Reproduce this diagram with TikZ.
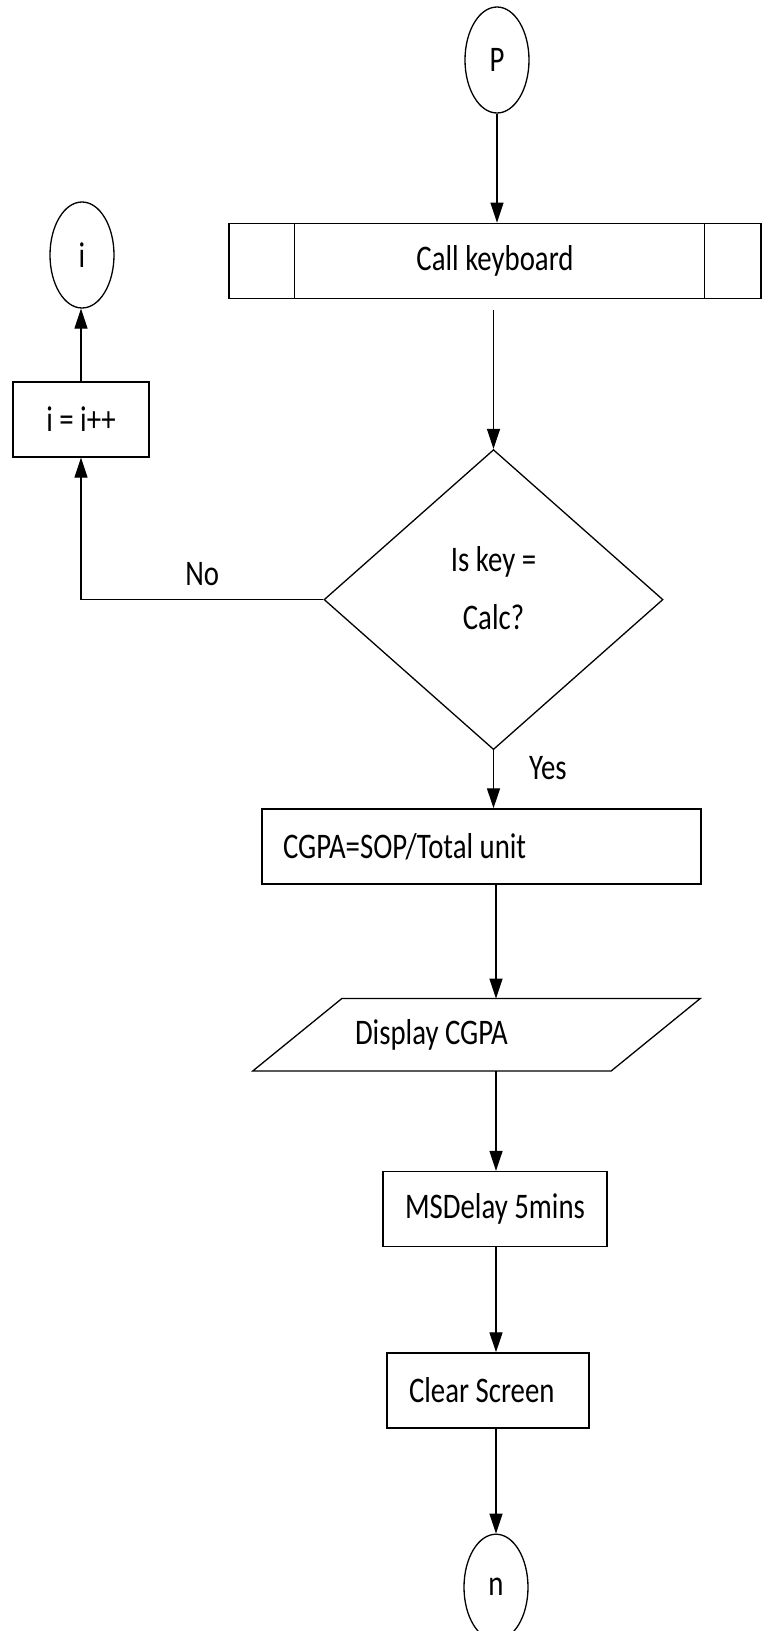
\documentclass[tikz,border=0pt]{standalone}
\usepackage{fontspec}
\setmainfont{Carlito}[FakeStretch=0.8]
\usetikzlibrary{shapes.geometric, arrows.meta, positioning, calc}

\begin{document}
\begin{tikzpicture}[
        x=1pt, y=-1pt,
        every node/.style={font=\fontsize{36}{58}\selectfont},
        conn/.style={ellipse, draw, line width=1.3pt, minimum width=64pt, minimum height=106pt, inner sep=0pt},
        box/.style={rectangle, draw, line width=1.3pt, minimum height=75pt, inner sep=0pt},
        decision/.style={diamond, draw, line width=1.3pt, minimum width=339pt, minimum height=300pt, inner sep=0pt},
        io/.style={rectangle, minimum height=72pt, inner ysep=0pt, inner xsep=57.5pt},
        lbl/.style={inner sep=0pt},
        arrow/.style={-{Triangle[length=20pt, width=13pt]}, line width=1.3pt}
    ]
        \useasboundingbox (0,0) rectangle (761,1631);
        \coordinate (spine) at (496,0);

        % Main column
        \node[conn] (p) at (497,60) {P};
        \node[box, minimum width=532pt, below=109pt of p, xshift=-2pt] (callkb) {Call keyboard};
        \draw[line width=1.3pt] ($(callkb.north west)+(66,0)$) -- ($(callkb.south west)+(66,0)$);
        \draw[line width=1.3pt] ($(callkb.north east)+(-57,0)$) -- ($(callkb.south east)+(-57,0)$);

        \node[decision, below=150pt of callkb, xshift=-1.5pt] (dec) {\raisebox{11pt}[\height][\depth]{\begin{tabular}{@{}c@{}}Is key =\\ Calc?\end{tabular}}};

        \node[box, minimum width=439pt, inner xsep=21pt, below=58pt of dec, xshift=-12pt] (calc) {\makebox[397pt][l]{CGPA=SOP/Total unit}};

        \node[io, below=114pt of calc, xshift=-5pt] (disp) {\makebox[243pt][l]{Display CGPA}};
        \draw[line width=1.3pt] ($(disp.south west)+(-44.5,0)$) -- ($(disp.north west)+(44.5,0)$)
            -- ($(disp.north east)+(44.5,0)$) -- ($(disp.south east)+(-44.5,0)$) -- cycle;

        \node[box, minimum width=224pt, below=100pt of disp, xshift=18.5pt] (delay) {MSDelay 5mins};
        \node[box, minimum width=202pt, inner xsep=22pt, below=105pt of delay, xshift=-7pt] (clr) {\makebox[158pt][l]{Clear Screen}};
        \node[conn, below=105pt of clr, xshift=8pt] (n) {n};

        % Left branch
        \node[box, minimum width=136pt] (inc) at (81,419.5) {i = i++};
        \node[conn] (iconn) at (82,255) {i};

        % Arrows
        \draw[arrow] (p) -- (p |- callkb.north);
        \draw[arrow, shorten <=11pt] (callkb.south -| dec.north) -- (dec.north);
        \draw[arrow] (dec.south) -- node[lbl, pos=0.3, right=35pt] {Yes} (calc.north -| dec.south);
        \draw[arrow] (calc.south -| spine) -- (disp.north -| spine);
        \draw[arrow] (disp.south -| spine) -- (delay.north -| spine);
        \draw[arrow] (delay.south -| spine) -- (clr.north -| spine);
        \draw[arrow] (clr.south -| spine) -- (n.north);
        \draw[arrow] (dec.west) -| node[lbl, pos=0.25, above=13pt] {No} (inc.south);
        \draw[arrow] (inc.north) -- (inc.north |- iconn.south);
    \end{tikzpicture}
\end{document}
